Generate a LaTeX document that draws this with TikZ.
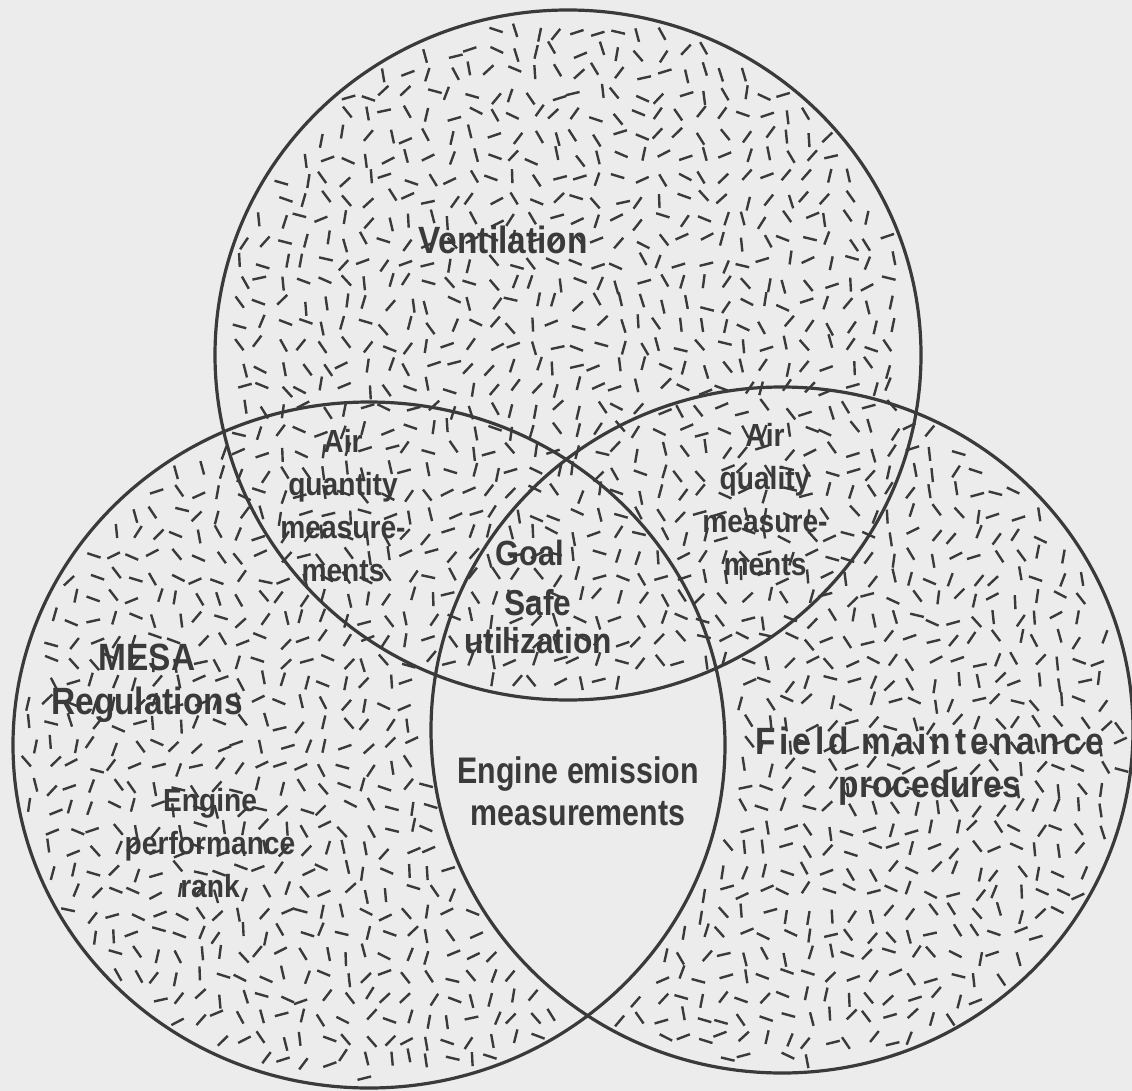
\documentclass[tikz,border=0pt]{standalone}
\usepackage{fontspec}
\setmainfont{Liberation Sans}
\newfontfamily\roughfont[FakeStretch=0.88]{Liberation Sans}
\newfontfamily\widefont[FakeStretch=0.88, LetterSpace=10]{Liberation Sans}
\newfontfamily\cleanfont[FakeStretch=0.82]{Liberation Sans}
\usepackage{xcolor}
\usepackage{tikz}
\definecolor{mydark}{RGB}{58,58,58}
\definecolor{mygray}{RGB}{236,236,236}
\tikzset{
  ring/.style={draw=mydark, line width=3.2pt},
  fleck/.style={draw=mydark, line width=2.4pt},
  biglabel/.style={align=center, text=mydark, inner sep=0pt,
    font=\roughfont\bfseries\fontsize{38}{44}\selectfont},
  smalllabel/.style={align=center, text=mydark, inner sep=0pt,
    font=\roughfont\bfseries\fontsize{32}{43}\selectfont},
  cleanlabel/.style={align=center, text=mydark, inner sep=0pt,
    font=\cleanfont\bfseries\fontsize{37}{42}\selectfont}
}

\begin{document}
\begin{tikzpicture}[x=1pt, y=-1pt]
  \fill[mygray] (0,0) rectangle (1132,1091);
  \useasboundingbox (0,0) rectangle (1132,1091);

  % stipple of short dashes, kept out of the lower lens
  \pgfmathsetseed{42}
  \foreach \i in {0,...,54}{
    \foreach \j in {0,...,52}{
      \pgfmathsetmacro\px{\i*21+10+5*rand}
      \pgfmathsetmacro\py{\j*21+10+5*rand}
      \pgfmathsetmacro\tu{(\px-568)/353}
      \pgfmathsetmacro\tv{(\py-355)/345}
      \pgfmathsetmacro\lu{(\px-369)/356}
      \pgfmathsetmacro\lv{(\py-745)/343}
      \pgfmathsetmacro\ru{(\px-782)/351}
      \pgfmathsetmacro\rv{(\py-730)/343}
      \pgfmathsetmacro\dT{\tu*\tu+\tv*\tv}
      \pgfmathsetmacro\dL{\lu*\lu+\lv*\lv}
      \pgfmathsetmacro\dR{\ru*\ru+\rv*\rv}
      \pgfmathtruncatemacro\keep{(\dT<0.95)||((\dL<0.95)&&(\dR>1.05))||((\dR<0.95)&&(\dL>1.05))}
      \ifnum\keep=1
        \pgfmathsetmacro\ang{{20,55,80,105,130,160}[random(0,5)]+8*rand}
        \draw[fleck] (\px,\py) ++(\ang:7) -- ++(\ang+180:14);
      \fi
    }
  }

  % the three sets
  \draw[ring] (568,355) ellipse [x radius=353pt, y radius=345pt];
  \draw[ring] (369,745) ellipse [x radius=356pt, y radius=343pt];
  \draw[ring] (782,730) ellipse [x radius=351pt, y radius=343pt];

  \node[biglabel] (vent) at (503,240) {Ventilation};
  \node[smalllabel] (quantity) at (343,506) {Air\\quantity\\measure-\\ments};
  \node[smalllabel] (quality) at (765,500) {Air\\quality\\measure-\\ments};
  \node[biglabel, font=\roughfont\bfseries\fontsize{35}{38}\selectfont] (goal) at (530,553) {Goal};
  \node[biglabel, font=\roughfont\bfseries\fontsize{36}{38}\selectfont] (safe) at (538,622) {Safe\\utilization};
  \node[biglabel] (mesa) at (147,683) {MESA\\Regulations};
  \node[smalllabel] (perf) at (210,843) {Engine\\performance\\rank};
  \node[biglabel, font=\roughfont\bfseries\fontsize{38}{43}\selectfont] (field) at (930,766)
    {{\widefont\bfseries Field maintenance}\\procedures};
  \node[cleanlabel] (emission) at (578,791) {Engine emission\\measurements};
\end{tikzpicture}
\end{document}
